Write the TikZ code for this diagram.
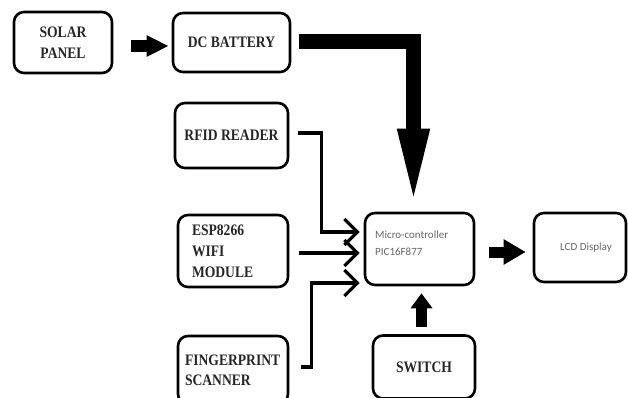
\documentclass[tikz,border=0pt]{standalone}
\usepackage{fontspec}
\setmainfont{Liberation Serif}
\newfontfamily\boxfont[FakeStretch=0.85]{Liberation Serif}
\newfontfamily\calfont{Carlito}
\usetikzlibrary{arrows.meta,calc}
\begin{document}
\begin{tikzpicture}[x=1pt,y=1pt,
  blk/.style={draw, line width=2.6pt, rounded corners=10pt,
    font=\boxfont\bfseries\fontsize{16}{21}\selectfont,
    align=center, inner sep=0pt, text=black!85},
  smalltext/.style={font=\calfont\fontsize{11}{17}\selectfont, text=black!60, inner sep=0pt},
  feed/.style={line width=3.2pt, -{Straight Barb[length=13pt,width=26pt]}},
  bigarrow/.style={line width=15pt, -{Triangle[length=80pt,width=28pt]}},
  ]
\useasboundingbox (0,0) rectangle (628,-398);

\node[blk, minimum width=98pt, minimum height=61pt] (solar) at (63,-42.5) {SOLAR\\PANEL};
\node[blk, minimum width=117pt, minimum height=59pt] (battery) at (231.5,-42.5) {DC BATTERY};
\node[blk, minimum width=113pt, minimum height=65pt] (rfid) at (231.5,-135.5) {RFID READER};
\node[blk, text width=82pt, align=left, inner xsep=14pt, minimum height=72pt] (esp) at (233,-251) {ESP8266\\WIFI\\MODULE};
\node[blk, text width=96pt, align=left, inner xsep=7pt, minimum height=68pt, font=\boxfont\bfseries\fontsize{16}{20}\selectfont] (finger) at (233,-370) {FINGERPRINT\\SCANNER};
\node[blk, minimum width=109pt, minimum height=72pt] (micro) at (419.5,-249) {};
\node[smalltext, anchor=north west, align=left] (microtext) at (375,-231) {Micro-controller\\PIC16F877};
\node[blk, minimum width=92pt, minimum height=69pt, font=\calfont\fontsize{11}{13}\selectfont, text=black!60] (lcd) at (580,-247.5) {\hspace*{12pt}LCD Display};
\node[blk, minimum width=102pt, minimum height=63pt] (switch) at (424,-367) {SWITCH};

% thick arrows
\draw[line width=12pt, -{Triangle[length=22pt,width=20pt]}] ([xshift=18pt,yshift=-3.5pt]solar.east) -- ([xshift=-3pt,yshift=-3.5pt]battery.west);
\draw[bigarrow] ([xshift=8pt,yshift=1pt]battery.east) -| ([xshift=-6pt,yshift=3pt]micro.north);
\draw[line width=11pt, -{Triangle[length=15pt,width=21pt]}] ([xshift=-2.5pt,yshift=7.5pt]switch.north) -- ([xshift=2pt,yshift=-7pt]micro.south);
\draw[line width=11pt, -{Triangle[length=22pt,width=24pt]}] ([xshift=14pt,yshift=-3pt]micro.east) -- ([xshift=-7pt,yshift=-4.5pt]lcd.west);

% input feeds
\draw[feed] ([xshift=9pt,yshift=2.5pt]rfid.east) -| ([xshift=-42pt,yshift=17pt]micro.west) -- ([xshift=-4pt,yshift=17pt]micro.west);
\draw[feed] ([xshift=10pt,yshift=-2pt]esp.east) -- ([xshift=-4pt,yshift=-4pt]micro.west);
\draw[feed] ([xshift=12pt,yshift=3pt]finger.east) -| ([xshift=-52pt,yshift=-34pt]micro.west) -- ([xshift=-4pt,yshift=-34pt]micro.west);
\end{tikzpicture}
\end{document}
